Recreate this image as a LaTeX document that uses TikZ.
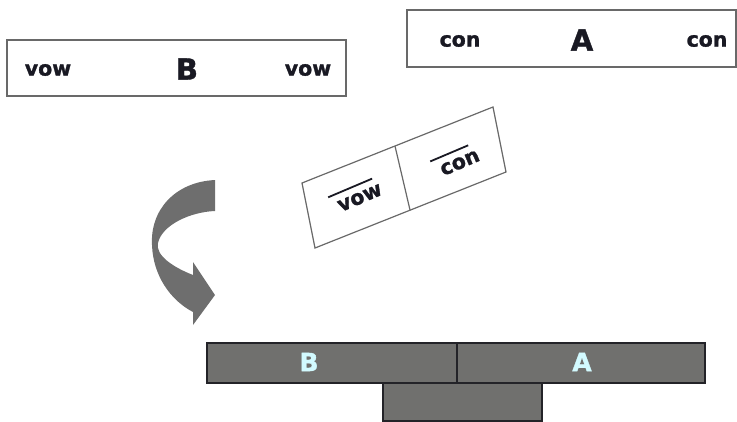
\documentclass[tikz,border=0pt]{standalone}
\usepackage{fontspec}
\setmainfont{DejaVu Sans}[BoldFeatures={FakeBold=1.3}]
\usetikzlibrary{calc}
\definecolor{boxline}{RGB}{105,105,105}
\definecolor{txt}{RGB}{25,25,35}
\definecolor{barfill}{RGB}{112,112,110}
\definecolor{barline}{RGB}{35,35,40}
\definecolor{cyanlbl}{RGB}{210,250,255}
\definecolor{arrowgray}{RGB}{110,110,110}
\tikzset{
  wordbox/.style={draw=boxline, line width=1.6pt, fill=white},
  smallword/.style={font=\fontsize{20.5}{24}\selectfont\bfseries, text=txt, inner sep=0pt},
  bigletter/.style={font=\fontsize{29}{34}\selectfont\bfseries, text=txt, inner sep=0pt},
  tiltword/.style={font=\fontsize{20.5}{24}\selectfont\bfseries, text=txt, rotate=23, inner sep=0pt},
  barbox/.style={draw=barline, line width=1.5pt, fill=barfill},
  barlabel/.style={font=\fontsize{25}{30}\selectfont\bfseries, text=cyanlbl, inner sep=0pt},
}
\begin{document}
\begin{tikzpicture}[x=1pt, y=-1pt]
\useasboundingbox (0,0) rectangle (737,421);

% box B
\draw[wordbox] (7,40) rectangle (346,96);
\node[smallword] (bv1) at (48,70) {vow};
\node[bigletter] (bB) at (187,69) {B};
\node[smallword] (bv2) at (308,70) {vow};

% box A
\draw[wordbox] (407,10) rectangle (736,67);
\node[smallword] (ac1) at (460,41) {con};
\node[bigletter] (aA) at (582,40) {A};
\node[smallword] (ac2) at (707,41) {con};

% tilted box
\draw[wordbox, line width=1.2pt] (302,183) -- (493,107) -- (506,172) -- (315,248) -- cycle;
\draw[draw=boxline, line width=1.2pt] (395,146) -- (410,210);
\node[tiltword] (tv) at (360,198) {vow};
\coordinate (tv1) at ($(tv.north west)!7pt!90:(tv.north east)$);
\coordinate (tv2) at ($(tv.north east)!7pt!-90:(tv.north west)$);
\draw[line width=1.8pt, txt] ($(tv1)!-0.12!(tv2)$) -- ($(tv1)!0.9!(tv2)$);
\node[tiltword] (tc) at (460,163) {con};
\coordinate (tc1) at ($(tc.north west)!7pt!90:(tc.north east)$);
\coordinate (tc2) at ($(tc.north east)!7pt!-90:(tc.north west)$);
\draw[line width=1.8pt, txt] ($(tc1)!-0.15!(tc2)$) -- ($(tc1)!0.85!(tc2)$);

% curved block arrow
\fill[arrowgray] (215,180) .. controls (175,182) and (150,210) .. (152,245)
  .. controls (153,275) and (170,300) .. (193,312) -- (193,325) -- (215,295) -- (193,262) -- (193,275)
  .. controls (175,268) and (155,256) .. (158,243)
  .. controls (162,225) and (190,212) .. (215,211) -- cycle;

% bottom bar
\draw[barbox] (383,383) rectangle (542,421);
\draw[barbox] (207,343) rectangle (705,383);
\draw[barline, line width=1.5pt] (457,343) -- (457,383);
\node[barlabel] (lB) at (309,362) {B};
\node[barlabel] (lA) at (582,362) {A};
\end{tikzpicture}
\end{document}
